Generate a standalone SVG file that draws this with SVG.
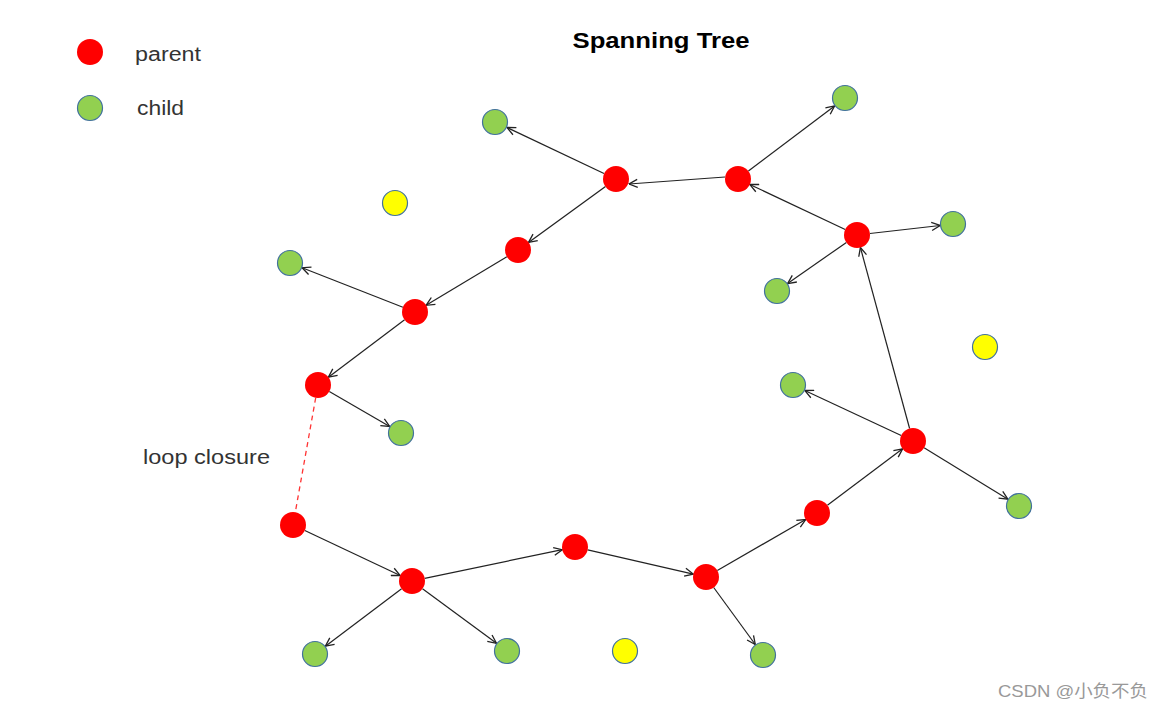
<svg xmlns="http://www.w3.org/2000/svg" width="1163" height="710" viewBox="0 0 1163 710">
<style>
.p{fill:#FF0000;}
.c{fill:#92D050;stroke:#41719C;stroke-width:1.2;}
.y{fill:#FFFF00;stroke:#41719C;stroke-width:1.2;}
.e{stroke:#222;stroke-width:1.2;fill:none;marker-end:url(#arr);}
.d{stroke:#FF3333;stroke-width:1.3;stroke-dasharray:5,4;fill:none;}
.t{font-family:"Liberation Sans",Arial,sans-serif;fill:#333;}
</style>
<defs>
<marker id="arr" markerUnits="userSpaceOnUse" viewBox="0 0 10 10" refX="9.5" refY="5" markerWidth="10" markerHeight="10" orient="auto">
<path d="M1,1 L9.5,5 L1,9" fill="none" stroke="#222" stroke-width="1.3"/>
</marker>
</defs>
<rect width="1163" height="710" fill="#fff"/>
<text class="t" x="661" y="48" text-anchor="middle" font-size="22" font-weight="bold" fill="#000" style="fill:#000" textLength="177" lengthAdjust="spacingAndGlyphs">Spanning Tree</text>
<g id="legend">
<circle class="p" cx="90" cy="52" r="13"/>
<text class="t" x="135" y="61" font-size="20" textLength="66" lengthAdjust="spacingAndGlyphs">parent</text>
<circle class="c" cx="90" cy="108" r="12.5"/>
<text class="t" x="137" y="115" font-size="20" textLength="47" lengthAdjust="spacingAndGlyphs">child</text>
</g>
<g id="connectors">
<line class="e" x1="725" y1="177" x2="629" y2="184"/>
<line class="e" x1="604" y1="173.5" x2="507" y2="127.5"/>
<line class="e" x1="748.4" y1="171.1" x2="834.6" y2="105.9"/>
<line class="e" x1="845.2" y1="229.5" x2="749.8" y2="184.5"/>
<line class="e" x1="869.9" y1="233.5" x2="940.1" y2="225.5"/>
<line class="e" x1="846.4" y1="242.4" x2="787.6" y2="283.6"/>
<line class="e" x1="605.5" y1="186.6" x2="528.5" y2="242.4"/>
<line class="e" x1="506.9" y1="256.7" x2="426.1" y2="305.3"/>
<line class="e" x1="402.9" y1="307.3" x2="302.1" y2="267.7"/>
<line class="e" x1="404.6" y1="319.8" x2="328.4" y2="377.2"/>
<line class="e" x1="329.3" y1="391.5" x2="389.7" y2="426.5"/>
<line class="d" x1="315.7" y1="397.8" x2="295.3" y2="512.2"/>
<line class="e" x1="304.8" y1="530.5" x2="400.2" y2="575.5"/>
<line class="e" x1="401.6" y1="588.8" x2="325.4" y2="646.2"/>
<line class="e" x1="422.5" y1="588.7" x2="496.5" y2="643.3"/>
<line class="e" x1="424.7" y1="578.3" x2="562.3" y2="549.7"/>
<line class="e" x1="587.7" y1="549.9" x2="693.3" y2="574.1"/>
<line class="e" x1="713.7" y1="587.5" x2="755.3" y2="644.5"/>
<line class="e" x1="717.3" y1="570.5" x2="805.7" y2="519.5"/>
<line class="e" x1="827.4" y1="505.2" x2="902.6" y2="448.8"/>
<line class="e" x1="909.6" y1="428.5" x2="860.4" y2="247.5"/>
<line class="e" x1="901.2" y1="435.5" x2="804.8" y2="390.5"/>
<line class="e" x1="924.1" y1="447.8" x2="1007.9" y2="499.2"/>
</g>
<g id="P1"><circle class="p" cx="616" cy="179" r="13"/></g>
<g id="P2"><circle class="p" cx="738" cy="179" r="13"/></g>
<g id="P3"><circle class="p" cx="857" cy="235" r="13"/></g>
<g id="P4"><circle class="p" cx="518" cy="250" r="13"/></g>
<g id="P5"><circle class="p" cx="415" cy="312" r="13"/></g>
<g id="P6"><circle class="p" cx="318" cy="385" r="13"/></g>
<g id="P7"><circle class="p" cx="293" cy="525" r="13"/></g>
<g id="P8"><circle class="p" cx="412" cy="581" r="13"/></g>
<g id="P9"><circle class="p" cx="575" cy="547" r="13"/></g>
<g id="P10"><circle class="p" cx="706" cy="577" r="13"/></g>
<g id="P11"><circle class="p" cx="817" cy="513" r="13"/></g>
<g id="P12"><circle class="p" cx="913" cy="441" r="13"/></g>
<g id="G1"><circle class="c" cx="495" cy="122" r="12.5"/></g>
<g id="G2"><circle class="c" cx="845" cy="98" r="12.5"/></g>
<g id="G3"><circle class="c" cx="953" cy="224" r="12.5"/></g>
<g id="G4"><circle class="c" cx="777" cy="291" r="12.5"/></g>
<g id="G5"><circle class="c" cx="290" cy="263" r="12.5"/></g>
<g id="G6"><circle class="c" cx="401" cy="433" r="12.5"/></g>
<g id="G7"><circle class="c" cx="793" cy="385" r="12.5"/></g>
<g id="G8"><circle class="c" cx="1019" cy="506" r="12.5"/></g>
<g id="G9"><circle class="c" cx="315" cy="654" r="12.5"/></g>
<g id="G10"><circle class="c" cx="507" cy="651" r="12.5"/></g>
<g id="G11"><circle class="c" cx="763" cy="655" r="12.5"/></g>
<g id="Y1"><circle class="y" cx="395" cy="203" r="12.5"/></g>
<g id="Y2"><circle class="y" cx="985" cy="347" r="12.5"/></g>
<g id="Y3"><circle class="y" cx="625" cy="651" r="12.5"/></g>
<text class="t" x="143" y="464" font-size="21" textLength="127" lengthAdjust="spacingAndGlyphs">loop closure</text>
<text x="998" y="697" font-size="17" fill="#999" font-family="'Liberation Sans','Noto Sans CJK SC',sans-serif" textLength="150" lengthAdjust="spacingAndGlyphs">CSDN @小负不负</text>
</svg>
